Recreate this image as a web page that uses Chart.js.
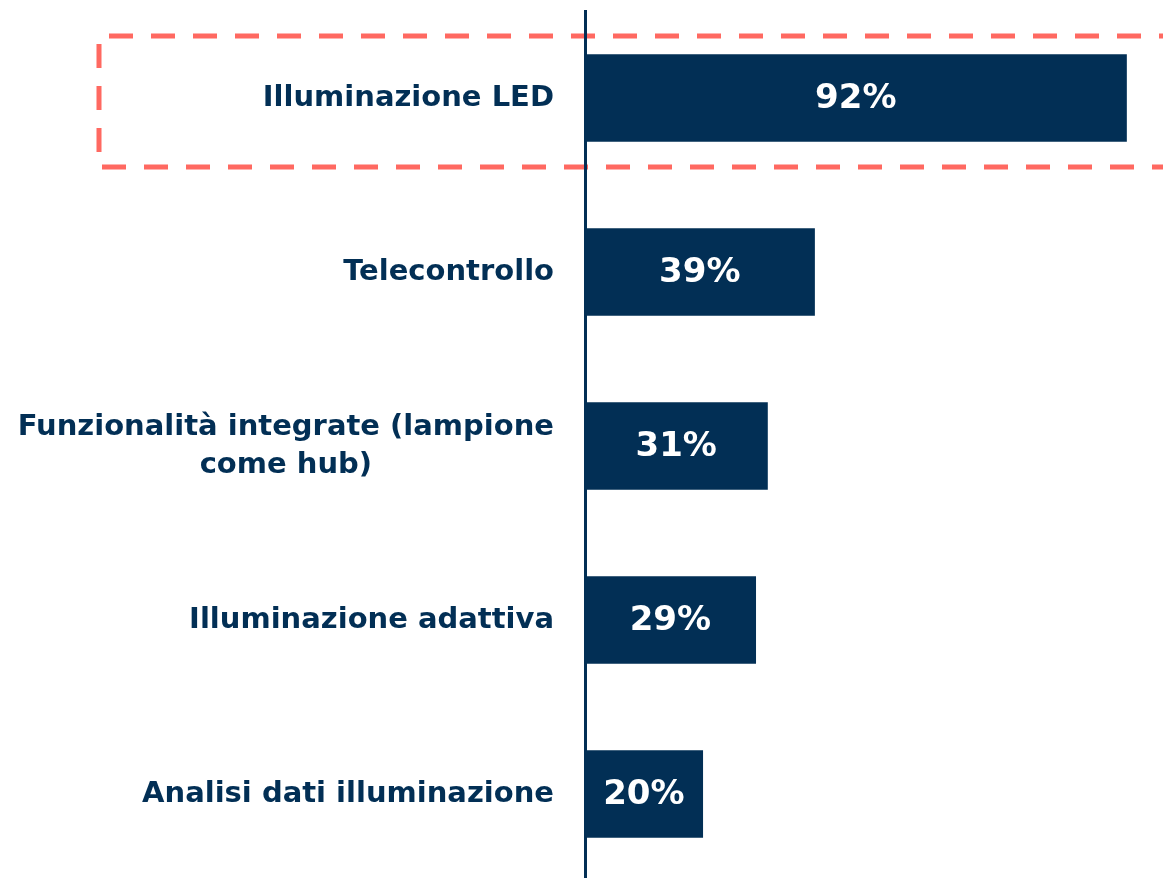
<!DOCTYPE html>
<html>
<head>
<meta charset="utf-8">
<script src="https://cdn.jsdelivr.net/npm/chart.js@4.4.1/dist/chart.umd.min.js"></script>
<style>
  html, body { margin: 0; padding: 0; background: #fff; overflow: hidden; }
  #wrap { width: 1163px; height: 882px; position: relative; }
</style>
</head>
<body>
<div id="wrap"><canvas id="chart"></canvas></div>
<script>
const categories = [
    ["Illuminazione LED"],
    ["Telecontrollo"],
    ["Funzionalità integrate (lampione", "come hub)"],
    ["Illuminazione adattiva"],
    ["Analisi dati illuminazione"]
];
const values = [92, 39, 31, 29, 20];
const valueLabels = ["92%", "39%", "31%", "29%", "20%"];

const NAVY = "#022F55";
const FONT = "'DejaVu Sans', sans-serif";

// category labels, right side of the axis, wrapped lines centred on the widest one
const catLabels = {
    id: "catLabels",
    afterDraw(chart) {
        const ctx = chart.ctx;
        const y = chart.scales.y;
        const right = chart.chartArea.left - 31;
        ctx.save();
        ctx.font = "bold 29px " + FONT;
        ctx.fillStyle = NAVY;
        ctx.textBaseline = "middle";
        ctx.textAlign = "center";
        categories.forEach((lines, i) => {
            const cy = y.getPixelForValue(i);
            const widest = Math.max(...lines.map(l => ctx.measureText(l).width));
            const lh = 38;
            lines.forEach((l, k) => {
                const ly = cy + (k - (lines.length - 1) / 2) * lh;
                ctx.fillText(l, right - widest / 2, ly);
            });
        });
        ctx.restore();
    }
};

// value labels inside the bars
const barValues = {
    id: "barValues",
    afterDatasetsDraw(chart) {
        const ctx = chart.ctx;
        const meta = chart.getDatasetMeta(0);
        ctx.save();
        ctx.font = "bold 34px " + FONT;
        ctx.fillStyle = "#ffffff";
        ctx.textAlign = "center";
        ctx.textBaseline = "middle";
        meta.data.forEach((bar, i) => {
            ctx.fillText(valueLabels[i], (bar.base + bar.x) / 2, bar.y + 1);
        });
        ctx.restore();
    }
};

// dashed highlight box round the first category
const highlight = {
    id: "highlight",
    beforeDraw(chart) {
        const ctx = chart.ctx;
        const cy = chart.scales.y.getPixelForValue(0);
        const top = cy - 62, bottom = cy + 69;
        const left = 99, right = chart.width + 20;
        ctx.save();
        ctx.strokeStyle = "#FF6961";
        ctx.lineWidth = 5;
        ctx.setLineDash([24, 18]);
        ctx.beginPath();
        ctx.moveTo(right, top);
        ctx.lineTo(left, top);
        ctx.lineTo(left, bottom);
        ctx.lineTo(right, bottom);
        ctx.stroke();
        ctx.restore();
    }
};

new Chart(document.getElementById("chart"), {
    type: "bar",
    data: {
        labels: categories.map(c => c.join(" ")),
        datasets: [{
            data: values,
            backgroundColor: NAVY,
            borderWidth: 0,
            barThickness: 87
        }]
    },
    options: {
        indexAxis: "y",
        responsive: true,
        maintainAspectRatio: false,
        animation: false,
        layout: { padding: { top: 11, bottom: 1, left: 0, right: 0 } },
        plugins: { legend: { display: false }, tooltip: { enabled: false } },
        scales: {
            x: { display: false, min: 0, max: 98.2 },
            y: {
                ticks: { display: false },
                grid: { display: false },
                border: { display: true, color: NAVY, width: 3 },
                afterFit(scale) { scale.width = 585; }
            }
        }
    },
    plugins: [highlight, catLabels, barValues]
});
</script>
</body>
</html>
